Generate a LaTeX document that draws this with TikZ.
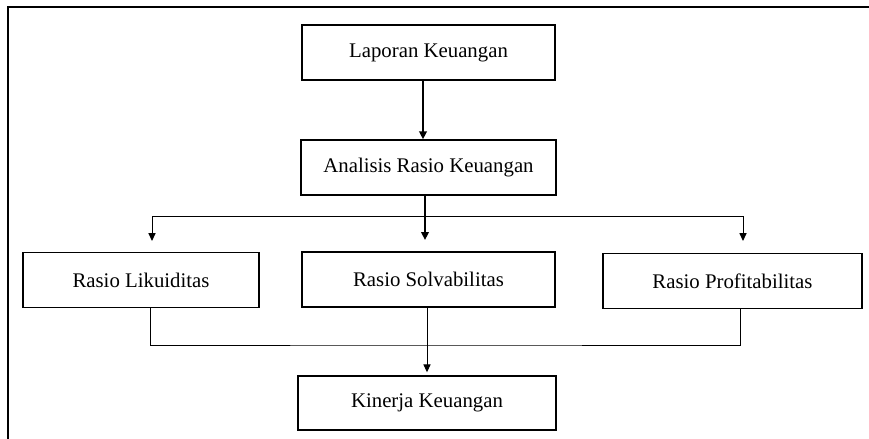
\documentclass[tikz,border=0pt]{standalone}
\usepackage{fontspec}
\setmainfont{Liberation Serif}
\usetikzlibrary{arrows.meta}
\begin{document}
\begin{tikzpicture}[x=0.5pt,y=-0.5pt,
    box/.style={draw,line width=0.7pt,minimum width=#1,minimum height=27.5pt,
        inner sep=0pt,font=\fontsize{10.4}{12}\selectfont},
    arr/.style={line width=0.5pt,-{Triangle[length=4pt,width=3.6pt]}},
    thickarr/.style={line width=1pt,-{Triangle[length=4pt,width=3.8pt]}}]
    \useasboundingbox (0,0) rectangle (869,439);
    % frame
    \draw[line width=0.8pt] (8,439) -- (8,7) -- (869,7);
    % boxes
    \node[box=126.5pt] (lap) at (428.5,52.5) {Laporan Keuangan};
    \node[box=127.5pt] (ana) at (428.5,167.5) {Analisis Rasio Keuangan};
    \node[box=118pt]   (lik) at (141,280) {Rasio Likuiditas};
    \node[box=126.5pt] (sol) at (428.5,279.5) {Rasio Solvabilitas};
    \node[box=129.5pt] (pro) at (732.5,281) {Rasio Profitabilitas};
    \node[box=129pt,minimum height=27pt] (kin) at (427,403) {Kinerja Keuangan};
    % branch points
    \coordinate (split) at (425,216);
    \coordinate (likin) at (152,241);
    \coordinate (solin) at (425,240);
    \coordinate (proin) at (743,241);
    \coordinate (join) at (427,345);
    % connectors
    \draw[thickarr] ([xshift=-2.75pt]lap.south) -- ([xshift=-2.75pt]ana.north);
    \draw[thickarr] (ana.south -| solin) -- (solin);
    \draw[line width=0.5pt] (likin |- split) -- (proin |- split);
    \draw[arr] (likin |- split) -- (likin);
    \draw[arr] (proin |- split) -- (proin);
    \draw[line width=0.5pt] ([xshift=4.5pt]lik.south) |- (join) -| ([xshift=3.75pt]pro.south);
    \draw[arr,shorten >=1.5pt] (sol.south -| join) -- (kin.north -| join);
\end{tikzpicture}
\end{document}
